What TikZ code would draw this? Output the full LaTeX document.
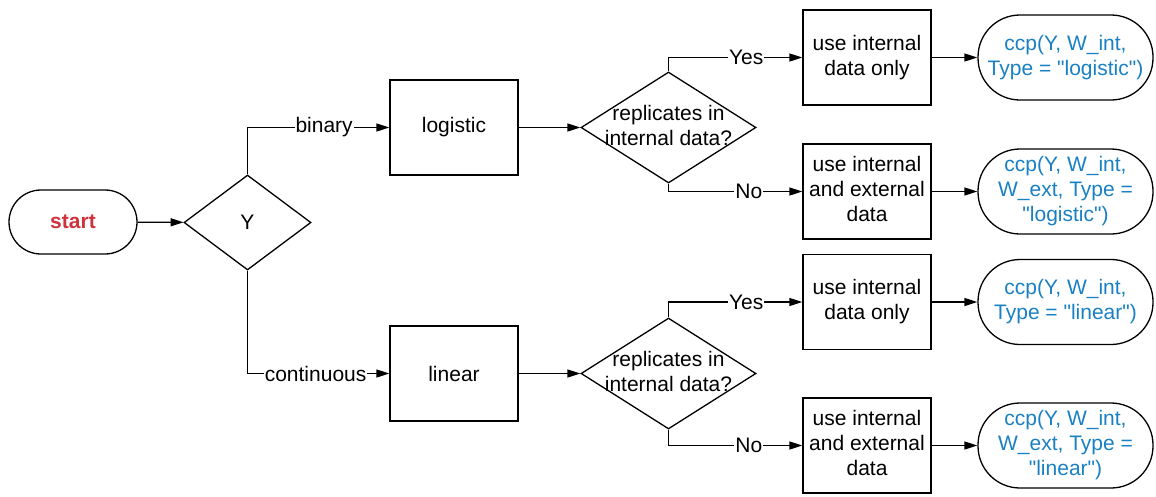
\documentclass[tikz,border=0pt]{standalone}
\usepackage{fontspec}
\setmainfont{Liberation Sans}[Ligatures=TeXOff]
\usetikzlibrary{shapes.geometric,arrows.meta}
\definecolor{startred}{RGB}{208,50,60}
\definecolor{ccpblue}{RGB}{25,128,195}
\begin{document}
\begin{tikzpicture}[x=1pt,y=-1pt,
  every node/.style={font=\fontsize{21}{25}\selectfont},
  base/.style={draw, line width=1.3pt},
  procbox/.style={base, minimum width=128pt, minimum height=95pt, align=center, inner sep=0pt},
  termbox/.style={base, rounded corners=42pt, minimum width=175pt, minimum height=85pt, align=center, inner sep=0pt, text=ccpblue},
  startbox/.style={base, rounded corners=32pt, minimum width=128pt, minimum height=64pt, inner sep=0pt, text=startred, font=\fontsize{21}{25}\selectfont\bfseries},
  conn/.style={line width=1.3pt, -{Triangle[length=13pt,width=8pt]}},
  lab/.style={fill=white, inner sep=1pt}
]
\useasboundingbox (0,0) rectangle (1156,496);

\node[startbox] (start) at (73,222) {start};
\node[base, diamond, inner sep=0pt, minimum width=127pt, minimum height=95pt] (Y) at (247.5,222.5) {};
\node (ytext) at (Y.center) {Y};

\node[procbox] (logistic) at (454,127.5) {logistic};
\node[procbox] (linear) at (454,373.5) {linear};

\node[base, diamond, inner sep=0pt, minimum width=175pt, minimum height=111pt] (d1) at (668.5,127.5) {};
\node[align=center, yshift=2.5pt] (d1text) at (d1.center) {replicates in\\internal data?};
\node[base, diamond, inner sep=0pt, minimum width=175pt, minimum height=111pt] (d2) at (668.5,373.5) {};
\node[align=center, yshift=2.5pt] (d2text) at (d2.center) {replicates in\\internal data?};

\node[procbox] (b1) at (867,57.5) {use internal\\data only};
\node[procbox] (b2) at (867,191.5) {};
\node[align=center, yshift=2.5pt] (b2text) at (b2.center) {use internal\\and external\\data};
\node[procbox] (b3) at (867,302) {use internal\\data only};
\node[procbox] (b4) at (867,445.5) {};
\node[align=center, yshift=2.5pt] (b4text) at (b4.center) {use internal\\and external\\data};

\node[termbox] (t1) at (1065.5,57.5) {ccp(Y, W\_int,\\Type = "logistic")};
\node[termbox] (t2) at (1065.5,191.5) {ccp(Y, W\_int,\\W\_ext, Type =\\"logistic")};
\node[termbox] (t3) at (1065.5,302) {ccp(Y, W\_int,\\Type = "linear")};
\node[termbox] (t4) at (1065.5,445.5) {ccp(Y, W\_int,\\W\_ext, Type =\\"linear")};

\draw[conn] (start) -- (Y);
\draw[conn] (Y.north) |- node[lab,pos=0.77]{binary} (logistic.west);
\draw[conn] (Y.south) |- node[lab,pos=0.74]{continuous} (linear.west);
\draw[conn] (logistic) -- (d1);
\draw[conn] (linear) -- (d2);
\draw[conn] (d1.north) |- node[lab,pos=0.79]{Yes} (b1.west);
\draw[conn] (d1.south) |- node[lab,pos=0.80]{No} (b2.west);
\draw[conn] (d2.north) |- node[lab,pos=0.79]{Yes} (b3.west);
\draw[conn] (d2.south) |- node[lab,pos=0.80]{No} (b4.west);
\draw[conn] (b1) -- (t1);
\draw[conn] (b2) -- (t2);
\draw[conn] (b3) -- (t3);
\draw[conn] (b4) -- (t4);
\end{tikzpicture}
\end{document}
